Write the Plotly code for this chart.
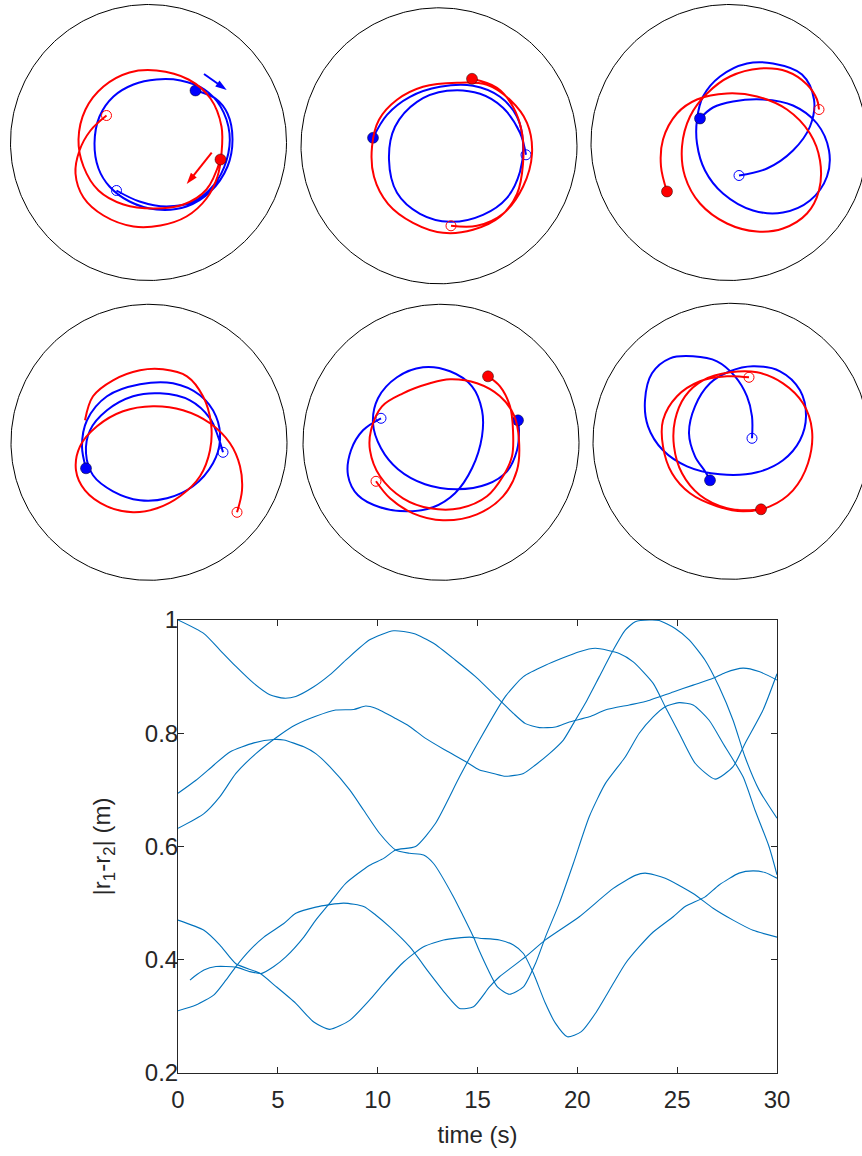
import numpy as np
import plotly.graph_objects as go

W, H = 862, 1156
ARENA_R = 138  # arena radius (cm)

# ---------------- trajectories (cm, relative to arena centre) ----------------
P1_BLUE_X = [-32, -9, 18, 45, 65, 78, 81, 72, 56, 32, 8, -15, -35, -49, -54, -50, -39, -19, 8, 38, 62, 79, 84, 79, 67, 47]
P1_BLUE_Y = [-48, -59, -64, -59, -43, -18, 9, 36, 53, 62, 63, 58, 46, 26, -1, -26, -44, -59, -67, -64, -49, -24, 3, 29, 44, 52]
P1_RED_X = [-42, -58, -69, -73, -65, -45, -15, 12, 38, 58, 69, 73, 73, 62, 40, 8, -19, -45, -63, -70, -65, -50, -25, 5, 35, 58, 72]
P1_RED_Y = [27, 12, -8, -31, -55, -73, -84, -83, -74, -56, -34, -11, 16, 44, 63, 72, 70, 56, 33, 3, -24, -48, -62, -66, -62, -47, -17]

P2_BLUE_X = [-66, -52, -29, 1, 34, 61, 78, 84, 81, 68, 44, 11, -19, -42, -50, -44, -22, 8, 41, 64, 81, 87]
P2_BLUE_Y = [8, 31, 49, 59, 60, 49, 29, 3, -26, -52, -69, -76, -68, -47, -14, 19, 44, 55, 52, 38, 13, -9]
P2_RED_X = [12, 38, 64, 84, 93, 88, 71, 48, 18, -16, -42, -60, -67, -65, -51, -26, 4, 34, 61, 78, 84, 83, 74, 58, 33]
P2_RED_Y = [-80, -80, -68, -41, -8, 23, 46, 61, 63, 59, 46, 26, -1, -31, -58, -77, -87, -84, -71, -48, -18, 13, 39, 58, 67]

P3_BLUE_X = [10, 38, 64, 81, 85, 73, 44, 18, -9, -26, -32, -32, -24, -6, 24, 54, 81, 98, 100, 88, 64, 34, 4, -16, -29]
P3_BLUE_Y = [-33, -26, -8, 16, 43, 68, 79, 79, 66, 46, 23, -1, -28, -51, -68, -70, -58, -34, -8, 19, 37, 43, 41, 35, 24]
P3_RED_X = [-62, -68, -66, -52, -32, -2, 28, 58, 81, 91, 90, 78, 54, 28, -2, -29, -44, -47, -39, -22, 1, 31, 58, 78, 88, 90]
P3_RED_Y = [-49, -24, 3, 29, 43, 49, 46, 33, 9, -18, -48, -71, -86, -89, -81, -61, -34, -4, 26, 49, 66, 74, 71, 58, 43, 33]

P4_BLUE_X = [-63, -67, -62, -42, -9, 24, 51, 67, 71, 64, 44, 18, -9, -36, -56, -63, -59, -42, -16, 11, 41, 61, 69, 74]
P4_BLUE_Y = [-26, -4, 22, 46, 58, 59, 47, 26, 2, -21, -44, -56, -58, -49, -33, -11, 12, 32, 46, 49, 42, 24, 6, -10]
P4_RED_X = [-64, -56, -36, -9, 14, 38, 54, 62, 61, 51, 31, 8, -16, -42, -64, -73, -69, -52, -26, 4, 34, 61, 81, 91, 93, 88]
P4_RED_Y = [22, 46, 62, 72, 73, 66, 46, 19, -8, -34, -54, -66, -70, -64, -48, -28, -4, 16, 31, 36, 32, 19, -1, -24, -48, -70]

P5_BLUE_X = [-60, -78, -90, -93, -83, -61, -34, -8, 14, 31, 41, 41, 31, 9, -18, -44, -63, -68, -60, -43, -16, 16, 46, 66, 76, 78, 77]
P5_BLUE_Y = [24, 12, -8, -33, -53, -65, -69, -65, -51, -26, 6, 32, 56, 71, 75, 65, 44, 19, -6, -27, -42, -47, -42, -29, -8, 12, 22]
P5_RED_X = [47, 59, 69, 72, 71, 62, 46, 19, -11, -38, -61, -71, -70, -59, -38, -11, 9, 36, 59, 73, 78, 76, 62, 36, 2, -28, -51, -65]
P5_RED_Y = [66, 56, 36, 12, -14, -34, -54, -66, -66, -56, -34, -8, 12, 36, 49, 59, 63, 59, 46, 27, 2, -28, -54, -72, -78, -71, -56, -39]

P6_BLUE_X = [21, 21, 16, 4, -14, -38, -61, -79, -86, -83, -68, -44, -11, 26, 52, 69, 75, 69, 49, 22, -1, -21, -36, -42, -36, -26, -21]
P6_BLUE_Y = [3, 25, 45, 65, 80, 85, 83, 68, 41, 15, -9, -25, -33, -31, -19, 1, 25, 51, 70, 75, 70, 58, 35, 8, -15, -30, -39]
P6_RED_X = [18, -4, -31, -54, -68, -68, -59, -41, -14, 12, 39, 62, 77, 81, 72, 52, 26, -1, -28, -46, -56, -57, -49, -31, -4, 16, 30]
P6_RED_Y = [64, 65, 60, 45, 21, -5, -32, -52, -65, -70, -65, -49, -22, 11, 38, 58, 69, 69, 61, 45, 21, -5, -32, -54, -67, -69, -68]

# marker at path start / end: 'open', 'filled' or None
PANELS = [
    dict(c=(148.5, 142.5), blue=(P1_BLUE_X, P1_BLUE_Y, "open", "filled"), red=(P1_RED_X, P1_RED_Y, "open", "filled")),
    dict(c=(439.0, 145.8), blue=(P2_BLUE_X, P2_BLUE_Y, "filled", "open"), red=(P2_RED_X, P2_RED_Y, "open", "filled")),
    dict(c=(729.0, 142.5), blue=(P3_BLUE_X, P3_BLUE_Y, "open", "filled"), red=(P3_RED_X, P3_RED_Y, "filled", "open")),
    dict(c=(149.0, 442.3), blue=(P4_BLUE_X, P4_BLUE_Y, "filled", "open"), red=(P4_RED_X, P4_RED_Y, None, "open")),
    dict(c=(441.0, 442.3), blue=(P5_BLUE_X, P5_BLUE_Y, "open", "filled"), red=(P5_RED_X, P5_RED_Y, "filled", "open")),
    dict(c=(731.0, 441.3), blue=(P6_BLUE_X, P6_BLUE_Y, "open", "filled"), red=(P6_RED_X, P6_RED_Y, "open", "filled")),
]

# direction arrows in panel 1 (tail -> head, cm)
ARROW_BLUE_X = [55.5, 78.2]
ARROW_BLUE_Y = [68.5, 52.5]
ARROW_RED_X = [63.2, 38.2]
ARROW_RED_Y = [-10.2, -41.5]

# ---------------- distance time series ----------------
A_T = [0, 1.3, 2.1, 2.9, 3.8, 4.6, 5.3, 5.9, 6.8, 7.6, 8.4, 9.6, 10.8, 11.8, 12.8, 13.9, 14.9, 16.1, 16.8, 17.4, 18.1, 18.9, 19.6, 20.6, 21.4, 22.6, 23.4, 24.8, 25.8, 26.8, 27.4, 28.3, 29.1, 30]
A_V = [1.0, 0.976, 0.947, 0.918, 0.888, 0.868, 0.862, 0.865, 0.882, 0.903, 0.929, 0.965, 0.981, 0.976, 0.959, 0.929, 0.9, 0.859, 0.835, 0.817, 0.81, 0.811, 0.82, 0.829, 0.841, 0.85, 0.856, 0.873, 0.885, 0.897, 0.907, 0.915, 0.909, 0.894]
F_T = [0.6, 0.8, 1.3, 1.9, 2.9, 3.6, 4.2, 4.8, 5.4, 6.3, 6.9, 7.6, 8.4, 9.6, 10.3, 10.9, 11.9, 12.9, 14.1, 15.1, 16.4, 17.3, 18.4, 20.1, 20.9, 22.1, 22.8, 23.8, 24.4, 25.1, 25.9, 26.9, 27.8, 28.4, 29.3, 30]
F_V = [0.364, 0.37, 0.382, 0.388, 0.387, 0.379, 0.376, 0.388, 0.405, 0.44, 0.47, 0.5, 0.535, 0.567, 0.579, 0.594, 0.6, 0.641, 0.723, 0.788, 0.865, 0.9, 0.92, 0.944, 0.95, 0.941, 0.926, 0.888, 0.847, 0.8, 0.747, 0.719, 0.741, 0.782, 0.841, 0.905]
C_T = [0, 0.9, 1.8, 2.6, 3.8, 4.8, 5.3, 6.3, 6.9, 7.6, 8.6, 9.3, 10.1, 10.9, 11.6, 12.3, 12.8, 13.8, 14.3, 14.8, 15.1, 16.0, 16.6, 17.3, 17.9, 18.4, 19.1, 19.8, 20.6, 21.4, 22.4, 23.1, 23.8, 24.4, 25.1, 25.8, 26.6, 27.3, 28.3, 28.9, 29.6, 30]
C_V = [0.694, 0.717, 0.744, 0.767, 0.783, 0.789, 0.788, 0.776, 0.764, 0.741, 0.7, 0.664, 0.623, 0.594, 0.588, 0.585, 0.57, 0.511, 0.476, 0.44, 0.415, 0.352, 0.339, 0.352, 0.393, 0.44, 0.5, 0.57, 0.653, 0.711, 0.758, 0.8, 0.829, 0.847, 0.854, 0.85, 0.823, 0.782, 0.723, 0.664, 0.6, 0.55]
D_T = [0, 1.3, 2.1, 2.9, 4.1, 4.9, 5.9, 6.8, 7.6, 8.6, 9.6, 10.3, 11.3, 12.3, 13.3, 14.6, 15.1, 16.1, 16.8, 17.3, 17.8, 18.4, 18.9, 19.5, 20.2, 20.9, 21.8, 22.4, 23.1, 23.8, 24.8, 25.4, 26.4, 27.1, 28.1, 28.8, 29.4, 30]
D_V = [0.47, 0.452, 0.426, 0.393, 0.376, 0.353, 0.323, 0.29, 0.277, 0.293, 0.329, 0.358, 0.396, 0.423, 0.435, 0.44, 0.438, 0.435, 0.426, 0.411, 0.376, 0.323, 0.288, 0.264, 0.273, 0.305, 0.358, 0.393, 0.423, 0.449, 0.476, 0.494, 0.511, 0.532, 0.553, 0.557, 0.554, 0.544]
E_T = [0, 0.9, 1.8, 2.4, 2.9, 3.6, 4.3, 5.3, 5.9, 6.9, 8.3, 9.3, 9.9, 10.6, 11.6, 12.6, 13.4, 14.1, 14.8, 15.6, 16.1, 17.4, 18.4, 20.1, 21.8, 22.9, 23.4, 24.4, 25.8, 26.8, 27.8, 28.8, 30]
E_V = [0.31, 0.32, 0.338, 0.364, 0.388, 0.417, 0.44, 0.464, 0.482, 0.493, 0.5, 0.494, 0.479, 0.458, 0.423, 0.376, 0.34, 0.314, 0.317, 0.352, 0.37, 0.405, 0.435, 0.476, 0.526, 0.549, 0.553, 0.544, 0.517, 0.491, 0.47, 0.452, 0.44]
G_T = [0, 1.3, 2.1, 2.9, 3.9, 5.1, 5.9, 6.9, 7.9, 8.8, 9.4, 9.9, 10.9, 11.6, 12.4, 13.4, 14.4, 15.1, 15.8, 16.4, 17.3, 17.9, 18.6, 19.3, 19.8, 20.4, 21.1, 21.8, 22.4, 22.9, 23.6, 24.1, 24.9, 25.6, 26.4, 27.1, 27.8, 28.4, 29.1, 30]
G_V = [0.632, 0.658, 0.688, 0.729, 0.764, 0.797, 0.815, 0.83, 0.841, 0.842, 0.848, 0.844, 0.826, 0.812, 0.791, 0.77, 0.75, 0.735, 0.729, 0.724, 0.729, 0.744, 0.764, 0.788, 0.817, 0.853, 0.9, 0.947, 0.982, 0.997, 1.0, 0.999, 0.985, 0.965, 0.929, 0.882, 0.823, 0.758, 0.7, 0.65]
SERIES = [(A_T, A_V), (F_T, F_V), (C_T, C_V), (D_T, D_V), (E_T, E_V), (G_T, G_V)]

X_TICKS = [0, 5, 10, 15, 20, 25, 30]
Y_TICKS = [0.2, 0.4, 0.6, 0.8, 1.0]
Y_TICKTEXT = ["0.2", "0.4", "0.6", "0.8", "1"]

# ---------------- figure ----------------
FONT = "Arial, Liberation Sans, Helvetica, sans-serif"
TXT = "#262626"
BLUE, RED = "#0000ff", "#ff0000"
FS = 24
fig = go.Figure()
layout = {}
EXT = 145
theta = np.linspace(0, 2 * np.pi, 361)

for i, p in enumerate(PANELS, start=1):
    cx, cy = p["c"]
    xlo, xhi = -min(EXT, cx), min(EXT, W - cx)
    ytop, ybot = min(EXT, cy), EXT
    xa, ya = f"x{i}", f"y{i}"
    layout[f"xaxis{i}"] = dict(domain=[(cx + xlo) / W, (cx + xhi) / W], range=[xlo, xhi],
                               visible=False, anchor=ya, fixedrange=True, automargin=False)
    layout[f"yaxis{i}"] = dict(domain=[1 - (cy + ybot) / H, 1 - (cy - ytop) / H], range=[-ybot, ytop],
                               visible=False, anchor=xa, fixedrange=True, automargin=False)
    fig.add_trace(go.Scatter(x=ARENA_R * np.cos(theta), y=ARENA_R * np.sin(theta), mode="lines",
                             line=dict(color="black", width=1), xaxis=xa, yaxis=ya,
                             showlegend=False, hoverinfo="skip"))
    for key, col in (("blue", BLUE), ("red", RED)):
        xs, ys, m0, m1 = p[key]
        fig.add_trace(go.Scatter(x=xs, y=ys, mode="lines",
                                 line=dict(color=col, width=2, shape="spline", smoothing=1.0),
                                 xaxis=xa, yaxis=ya, showlegend=False, hoverinfo="skip"))
        for (mx, my, kind) in ((xs[0], ys[0], m0), (xs[-1], ys[-1], m1)):
            if kind is None:
                continue
            if kind == "filled":
                mk = dict(symbol="circle", size=11, color=col, line=dict(color="rgba(0,0,0,0.45)", width=1))
            else:
                mk = dict(symbol="circle-open", size=10, color=col, line=dict(color=col, width=1))
            fig.add_trace(go.Scatter(x=[mx], y=[my], mode="markers", marker=mk, xaxis=xa, yaxis=ya,
                                     showlegend=False, hoverinfo="skip"))

# direction arrows (panel 1)
for ax_, ay_, col in ((ARROW_BLUE_X, ARROW_BLUE_Y, BLUE), (ARROW_RED_X, ARROW_RED_Y, RED)):
    fig.add_trace(go.Scatter(x=ax_, y=ay_, mode="lines+markers", line=dict(color=col, width=2),
                             marker=dict(symbol="arrow", size=[0, 12], angleref="previous", color=col,
                                         opacity=1, line=dict(width=0)),
                             xaxis="x1", yaxis="y1", showlegend=False, hoverinfo="skip"))

# bottom axes
L, R, T, B = 178, 777, 620, 1073
layout["xaxis7"] = dict(domain=[L / W, R / W], range=[0, 30], anchor="y7", tickvals=X_TICKS,
                        ticks="inside", ticklen=6, tickwidth=1, tickcolor=TXT, mirror="ticks",
                        showline=True, linecolor=TXT, linewidth=1, showgrid=False, zeroline=False,
                        automargin=False, fixedrange=True, ticklabelstandoff=5,
                        tickfont=dict(family=FONT, size=FS, color=TXT),
                        title=dict(text="time (s)", font=dict(family=FONT, size=FS, color=TXT), standoff=14))
layout["yaxis7"] = dict(domain=[1 - B / H, 1 - T / H], range=[0.2, 1.0], anchor="x7", tickvals=Y_TICKS,
                        ticktext=Y_TICKTEXT,
                        ticks="inside", ticklen=6, tickwidth=1, tickcolor=TXT, mirror="ticks",
                        showline=True, linecolor=TXT, linewidth=1, showgrid=False, zeroline=False,
                        automargin=False, fixedrange=True, ticklabelstandoff=-6,
                        tickfont=dict(family=FONT, size=FS, color=TXT),
                        title=dict(text="|r<sub>1</sub>-r<sub>2</sub>| (m)",
                                   font=dict(family=FONT, size=FS, color=TXT), standoff=27))
for (t, v) in SERIES:
    fig.add_trace(go.Scatter(x=t, y=v, mode="lines",
                             line=dict(color="#0072BD", width=1.1, shape="spline", smoothing=0.6),
                             xaxis="x7", yaxis="y7", showlegend=False, hoverinfo="skip"))

fig.update_layout(width=W, height=H, margin=dict(l=0, r=0, t=0, b=0, autoexpand=False),
                  paper_bgcolor="white", plot_bgcolor="rgba(0,0,0,0)",
                  font=dict(family=FONT, color=TXT), **layout)
fig.write_html("out.html", config={"displayModeBar": False},
               post_script="document.body.style.margin='0';")
